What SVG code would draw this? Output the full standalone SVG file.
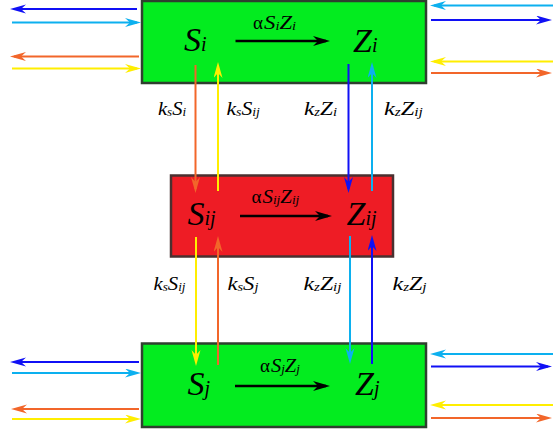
<svg xmlns="http://www.w3.org/2000/svg" width="553" height="432" viewBox="0 0 553 432">
<style>
.box{stroke-width:2.5}
.g{fill:#03ec1f;stroke:#2f3f2f}
.r{fill:#ee1c25;stroke:#4a3030}
.ln{fill:none;stroke-width:2}
.bl{stroke:#1010f5}.cy{stroke:#0cb0ef}.or{stroke:#f2662a}.ye{stroke:#ffee00}.bk{stroke:#000;stroke-width:2.5}
text{fill:#000;font-family:'Liberation Serif',serif}
</style>
<defs>
<marker id="aBk" markerUnits="userSpaceOnUse" markerWidth="20" markerHeight="12" refX="13" refY="5" orient="auto"><path d="M0,0 L17,5 L0,10 L5,5 z" fill="#000"/></marker>
<marker id="aBl" markerUnits="userSpaceOnUse" markerWidth="20" markerHeight="12" refX="12" refY="4.5" orient="auto"><path d="M0,0 L16,4.5 L0,9 L5,4.5 z" fill="#1010f5"/></marker>
<marker id="aCy" markerUnits="userSpaceOnUse" markerWidth="20" markerHeight="12" refX="12" refY="4.5" orient="auto"><path d="M0,0 L16,4.5 L0,9 L5,4.5 z" fill="#0cb0ef"/></marker>
<marker id="aOr" markerUnits="userSpaceOnUse" markerWidth="20" markerHeight="12" refX="12" refY="4.5" orient="auto"><path d="M0,0 L16,4.5 L0,9 L5,4.5 z" fill="#f2662a"/></marker>
<marker id="aYe" markerUnits="userSpaceOnUse" markerWidth="20" markerHeight="12" refX="12" refY="4.5" orient="auto"><path d="M0,0 L16,4.5 L0,9 L5,4.5 z" fill="#ffee00"/></marker>
</defs>

<g id="node-top">
<rect class="box g" x="142" y="1" width="284" height="82"/>
<text x="184" y="51" font-size="34" font-style="italic">S<tspan font-size="20">i</tspan></text>
<text x="353" y="51.5" font-size="34" font-style="italic">Z<tspan font-size="20">i</tspan></text>
</g>
<g id="node-middle">
<rect class="box r" x="171" y="175.5" width="222" height="81"/>
<text x="187.5" y="225" font-size="34" font-style="italic">S<tspan font-size="20">ij</tspan></text>
<text x="346.5" y="225" font-size="34" font-style="italic">Z<tspan font-size="20">ij</tspan></text>
</g>
<g id="node-bottom">
<rect class="box g" x="142" y="343.5" width="284" height="83.5"/>
<text x="187.5" y="395" font-size="34" font-style="italic">S<tspan font-size="20">j</tspan></text>
<text x="355" y="395" font-size="34" font-style="italic">Z<tspan font-size="20">j</tspan></text>
</g>

<g id="connectors">
<line class="ln bk" x1="235.5" y1="41" x2="326" y2="41" marker-end="url(#aBk)"/>
<line class="ln bk" x1="240" y1="216" x2="328" y2="216" marker-end="url(#aBk)"/>
<line class="ln bk" x1="235" y1="386" x2="326" y2="386" marker-end="url(#aBk)"/>
<line class="ln bl" x1="137" y1="9" x2="14" y2="9" marker-end="url(#aBl)"/>
<line class="ln cy" x1="12" y1="22.5" x2="137" y2="22.5" marker-end="url(#aCy)"/>
<line class="ln or" x1="139" y1="56.5" x2="14" y2="56.5" marker-end="url(#aOr)"/>
<line class="ln ye" x1="12" y1="68.5" x2="137" y2="68.5" marker-end="url(#aYe)"/>
<line class="ln cy" x1="553" y1="5.5" x2="434" y2="5.5" marker-end="url(#aCy)"/>
<line class="ln bl" x1="431" y1="20" x2="548" y2="20" marker-end="url(#aBl)"/>
<line class="ln ye" x1="553" y1="61.5" x2="434" y2="61.5" marker-end="url(#aYe)"/>
<line class="ln or" x1="431" y1="73" x2="548" y2="73" marker-end="url(#aOr)"/>
<line class="ln bl" x1="139" y1="362" x2="14" y2="362" marker-end="url(#aBl)"/>
<line class="ln cy" x1="12" y1="373" x2="137" y2="373" marker-end="url(#aCy)"/>
<line class="ln or" x1="139" y1="409" x2="15" y2="409" marker-end="url(#aOr)"/>
<line class="ln ye" x1="12" y1="419" x2="137" y2="419" marker-end="url(#aYe)"/>
<line class="ln cy" x1="553" y1="354" x2="434" y2="354" marker-end="url(#aCy)"/>
<line class="ln bl" x1="431" y1="366.5" x2="548" y2="366.5" marker-end="url(#aBl)"/>
<line class="ln ye" x1="553" y1="405" x2="434" y2="405" marker-end="url(#aYe)"/>
<line class="ln or" x1="431" y1="418" x2="548" y2="418" marker-end="url(#aOr)"/>
<line class="ln or" x1="195.5" y1="65" x2="195.5" y2="189" marker-end="url(#aOr)"/>
<line class="ln ye" x1="218" y1="191" x2="218" y2="66" marker-end="url(#aYe)"/>
<line class="ln bl" x1="348.5" y1="64" x2="348.5" y2="189" marker-end="url(#aBl)"/>
<line class="ln cy" x1="372" y1="191" x2="372" y2="66" marker-end="url(#aCy)"/>
<line class="ln ye" x1="196" y1="237" x2="196" y2="362" marker-end="url(#aYe)"/>
<line class="ln or" x1="218" y1="365" x2="218" y2="240" marker-end="url(#aOr)"/>
<line class="ln cy" x1="350" y1="236" x2="350" y2="360" marker-end="url(#aCy)"/>
<line class="ln bl" x1="372" y1="364" x2="372" y2="239" marker-end="url(#aBl)"/>
</g>

<g id="labels">
<text x="253" y="29" font-size="19">α</text>
<text transform="translate(264,29) scale(1.2,1)" font-size="19" font-style="italic">S<tspan font-size="12" dy="1">i</tspan><tspan dy="-1">Z</tspan><tspan font-size="12" dy="1">i</tspan></text>
<text x="251.5" y="203" font-size="19">α</text>
<text transform="translate(262.5,203) scale(1.1,1)" font-size="19" font-style="italic">S<tspan font-size="12" dy="1">ij</tspan><tspan dy="-1">Z</tspan><tspan font-size="12" dy="1">ij</tspan></text>
<text x="260" y="372" font-size="19">α</text>
<text transform="translate(271,372) scale(1.08,1)" font-size="19" font-style="italic">S<tspan font-size="12" dy="1">j</tspan><tspan dy="-1">Z</tspan><tspan font-size="12" dy="1">j</tspan></text>
<text transform="translate(158,115) scale(1.08,1)" font-size="19" font-style="italic">k<tspan font-size="12" dy="1">s</tspan><tspan dy="-1">S</tspan><tspan font-size="12" dy="1">i</tspan></text>
<text transform="translate(226.5,115) scale(1.14,1)" font-size="19" font-style="italic">k<tspan font-size="12" dy="1">s</tspan><tspan dy="-1">S</tspan><tspan font-size="12" dy="1">ij</tspan></text>
<text transform="translate(304,115) scale(1.22,1)" font-size="19" font-style="italic">k<tspan font-size="12" dy="1">z</tspan><tspan dy="-1">Z</tspan><tspan font-size="12" dy="1">i</tspan></text>
<text transform="translate(384,115) scale(1.28,1)" font-size="19" font-style="italic">k<tspan font-size="12" dy="1">z</tspan><tspan dy="-1">Z</tspan><tspan font-size="12" dy="1">ij</tspan></text>
<text transform="translate(153.5,290) scale(1.09,1)" font-size="19" font-style="italic">k<tspan font-size="12" dy="1">s</tspan><tspan dy="-1">S</tspan><tspan font-size="12" dy="1">ij</tspan></text>
<text transform="translate(227.5,290) scale(1.19,1)" font-size="19" font-style="italic">k<tspan font-size="12" dy="1">s</tspan><tspan dy="-1">S</tspan><tspan font-size="12" dy="1">j</tspan></text>
<text transform="translate(303.5,290) scale(1.25,1)" font-size="19" font-style="italic">k<tspan font-size="12" dy="1">z</tspan><tspan dy="-1">Z</tspan><tspan font-size="12" dy="1">ij</tspan></text>
<text transform="translate(392.5,290) scale(1.26,1)" font-size="19" font-style="italic">k<tspan font-size="12" dy="1">z</tspan><tspan dy="-1">Z</tspan><tspan font-size="12" dy="1">j</tspan></text>
</g>
</svg>
